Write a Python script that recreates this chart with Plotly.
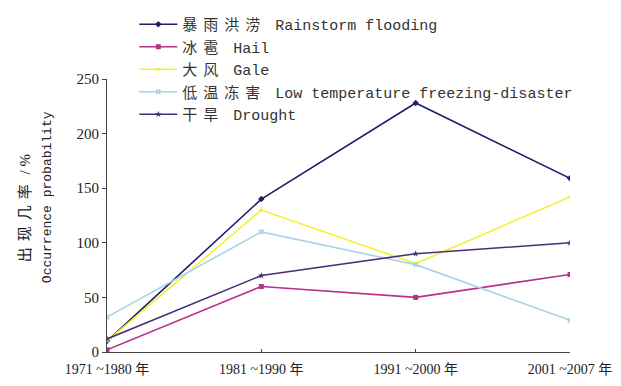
import plotly.graph_objects as go

periods = ["1971 ~1980 年", "1981 ~1990 年", "1991 ~2000 年", "2001 ~2007 年"]
rainstorm = [10, 140, 228, 159]
hail = [2, 60, 50, 71]
gale = [10, 130, 81, 142]
low_temp = [32, 110, 80, 29]
drought = [12, 70, 90, 100]

series = [
    ("暴雨洪涝", "Rainstorm flooding", rainstorm, "#1f1f6b", "diamond"),
    ("冰雹", "Hail", hail, "#b8308a", "square"),
    ("大风", "Gale", gale, "#f2f230", "triangle-up"),
    ("低温冻害", "Low temperature freezing-disaster", low_temp, "#a8d4e4", "x"),
    ("干旱", "Drought", drought, "#4a2d7a", "star"),
]

serif = "Liberation Serif, Noto Sans CJK SC, serif"
mono = "Liberation Mono, Noto Sans CJK SC, monospace"

fig = go.Figure()
for i, (cn, en, vals, col, sym) in enumerate(series):
    fig.add_trace(go.Scatter(
        x=periods, y=vals,
        name=f'<span style="letter-spacing:6px">{cn}</span> {en}',
        mode="lines+markers",
        legendgroup=f"g{i}",
        line=dict(color=col, width=1.6),
        marker=dict(color=col, size=5, symbol=sym),
    ))

# page body has an 8px margin: figure is drawn offset by (8, 8)
fig.update_layout(
    width=613, height=378,
    margin=dict(l=99, r=51, t=71, b=34, autoexpand=False),
    paper_bgcolor="white", plot_bgcolor="white",
    font=dict(family=serif, size=14, color="#222"),
    showlegend=True,
    legend=dict(x=0.059, y=1.26, xanchor="left", yanchor="top",
                bgcolor="rgba(0,0,0,0)", font=dict(size=15, family=mono, color="#333"),
                itemwidth=38, tracegroupgap=3, traceorder="normal"),
    xaxis=dict(range=[0, 3], showgrid=False, zeroline=False,
               showline=True, linecolor="#444", linewidth=1.2,
               ticks="inside", ticklen=3, tickcolor="#444",
               ticklabelstandoff=4,
               tickfont=dict(size=14, family=serif)),
    yaxis=dict(range=[0, 250], showgrid=False, zeroline=False,
               showline=True, linecolor="#444", linewidth=1.2,
               tickvals=[0, 50, 100, 150, 200, 250],
               ticks="outside", ticklen=4, tickcolor="#444",
               tickfont=dict(size=15, family=serif)),
    annotations=[
        dict(text='<span style="letter-spacing:6px">出现几率</span> / %',
             xref="paper", yref="paper",
             x=-0.177, y=0.527, xanchor="center", yanchor="middle",
             textangle=-90, showarrow=False,
             font=dict(size=15, family=serif)),
        dict(text="Occurrence probability", xref="paper", yref="paper",
             x=-0.127, y=0.568, xanchor="center", yanchor="middle",
             textangle=-90, showarrow=False,
             font=dict(size=13, family=mono)),
    ],
)

fig.write_html("out.html")
